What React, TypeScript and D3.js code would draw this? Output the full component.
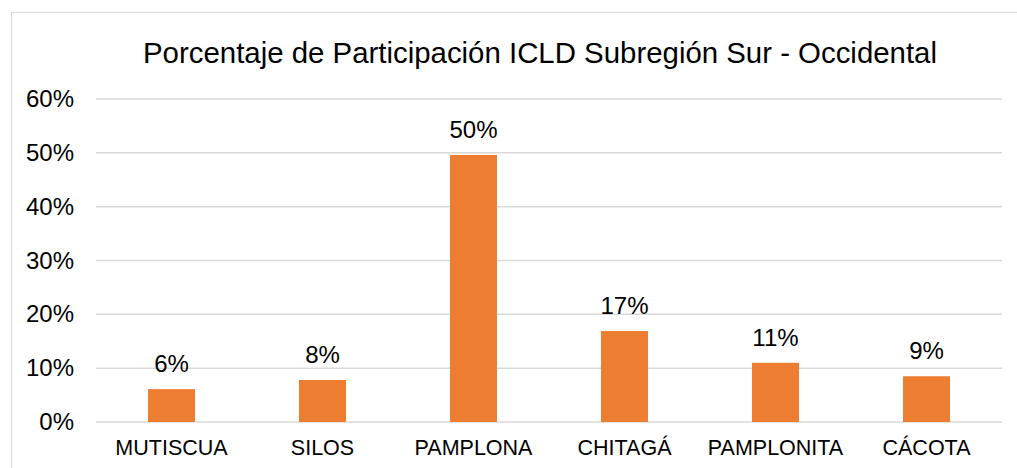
import React, { useEffect, useRef } from 'react'
import * as d3 from 'd3'

const categories = ['MUTISCUA', 'SILOS', 'PAMPLONA', 'CHITAGÁ', 'PAMPLONITA', 'CÁCOTA']
const values = [6.1, 7.8, 49.6, 16.9, 11.0, 8.5]
const yTicks = [0, 10, 20, 30, 40, 50, 60]
const title = 'Porcentaje de Participación ICLD Subregión Sur - Occidental'

const W = 1017
const H = 468

export default function App() {
    const svgRef = useRef<SVGSVGElement>(null)

    useEffect(() => {
        if (!svgRef.current) return
        const svg = d3.select(svgRef.current)
        svg.selectAll('*').remove()

        const font = "'Liberation Sans', Arial, sans-serif"
        const margin = { left: 96, right: 1002, top: 99, bottom: 422 }

        // chart frame (runs off the right / bottom edge like the original)
        svg.append('rect')
            .attr('x', 11.5).attr('y', 12.5)
            .attr('width', W).attr('height', H)
            .attr('fill', '#fff')
            .attr('stroke', '#d9d9d9')
            .attr('stroke-width', 1.2)

        const x = d3.scaleBand<string>()
            .domain(categories)
            .range([margin.left, margin.right])
            .paddingInner(0.689)
            .paddingOuter(0.3445)

        const y = d3.scaleLinear().domain([0, 60]).range([margin.bottom, margin.top])

        // gridlines
        svg.append('g').selectAll('line')
            .data(yTicks)
            .enter().append('line')
            .attr('x1', margin.left).attr('x2', margin.right)
            .attr('y1', d => y(d)).attr('y2', d => y(d))
            .attr('stroke', '#d9d9d9')
            .attr('stroke-width', 1.5)

        // y tick labels
        svg.append('g').selectAll('text')
            .data(yTicks)
            .enter().append('text')
            .attr('x', 74)
            .attr('y', d => y(d) + 8)
            .attr('text-anchor', 'end')
            .style('font-family', font)
            .style('font-size', '24px')
            .style('fill', '#000')
            .text(d => `${d}%`)

        // bars
        svg.append('g').selectAll('rect')
            .data(values)
            .enter().append('rect')
            .attr('x', (d, i) => x(categories[i])!)
            .attr('width', x.bandwidth())
            .attr('y', d => y(d))
            .attr('height', d => y(0) - y(d))
            .attr('fill', '#ed7d31')

        // data labels
        svg.append('g').selectAll('text')
            .data(values)
            .enter().append('text')
            .attr('x', (d, i) => x(categories[i])! + x.bandwidth() / 2)
            .attr('y', d => y(d) - 17)
            .attr('text-anchor', 'middle')
            .style('font-family', font)
            .style('font-size', '24px')
            .style('fill', '#000')
            .text(d => `${Math.round(d)}%`)

        // category labels
        svg.append('g').selectAll('text')
            .data(categories)
            .enter().append('text')
            .attr('x', d => x(d)! + x.bandwidth() / 2)
            .attr('y', 455)
            .attr('text-anchor', 'middle')
            .style('font-family', font)
            .style('font-size', '21.5px')
            .style('fill', '#000')
            .text(d => d)

        // title
        svg.append('text')
            .attr('x', 540)
            .attr('y', 63)
            .attr('text-anchor', 'middle')
            .style('font-family', font)
            .style('font-size', '29.4px')
            .style('fill', '#000')
            .text(title)
    }, [])

    return (
        <svg ref={svgRef} width={W} height={H}
            style={{ position: 'absolute', left: 0, top: 0, background: '#fff' }} />
    )
}
